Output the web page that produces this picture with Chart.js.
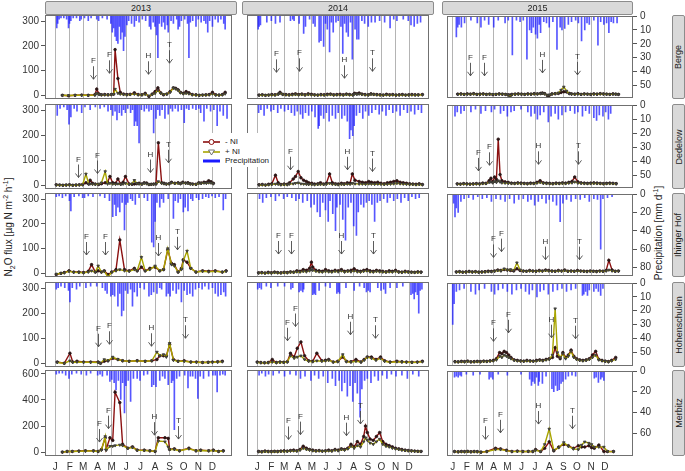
<!DOCTYPE html>
<html>
<head>
<meta charset="utf-8">
<script src="https://cdn.jsdelivr.net/npm/chart.js@4.4.0/dist/chart.umd.min.js"></script>
<style>
body { margin: 0; background: #fff; font-family: "Liberation Sans", Arial, sans-serif; }
#fig { position: relative; width: 685px; height: 471px; overflow: hidden; background: #fff; }
#fig canvas { position: absolute; }
.strip { position: absolute; box-sizing: border-box; background: #d9d9d9; border: 1px solid #8c8c8c; border-radius: 2px;
  font-size: 9px; color: #222; display: flex; align-items: center; justify-content: center; overflow: visible; }
.vt { transform: rotate(-90deg); white-space: nowrap; }
.title { position: absolute; font-size: 10px; color: #222; white-space: nowrap; transform: translate(-50%, -50%) rotate(-90deg); }
.title sub, .title sup { font-size: 7px; }
#legend { position: absolute; left: 199px; top: 133px; width: 72px; height: 34px; background: #fff; z-index: 5; }
#legend span { position: absolute; left: 26px; font-size: 8px; color: #222; white-space: nowrap; }
</style>
</head>
<body>
<div id="fig">
  <div class="title" style="left:9px;top:227px">N<sub>2</sub>O flux [µg N m<sup>-2</sup> h<sup>-1</sup>]</div>
  <div class="title" style="left:658px;top:233px">Precipitation [mm d<sup>-1</sup>]</div>
  <div id="legend">
    <svg width="20" height="34" style="position:absolute;left:4px;top:0">
      <line x1="0" y1="9" x2="17" y2="9" stroke="#8b1010" stroke-width="1.6"/>
      <circle cx="8.5" cy="9" r="2.5" fill="#fff" stroke="#8b1010" stroke-width="1"/>
      <line x1="0" y1="19" x2="17" y2="19" stroke="#a8a400" stroke-width="1.6"/>
      <path d="M5.5 17 L11.5 17 L8.5 22 Z" fill="#fff" stroke="#555" stroke-width="0.8"/>
      <line x1="0" y1="28" x2="17" y2="28" stroke="#1a1aff" stroke-width="3"/>
    </svg>
    <span style="top:4px">- NI</span>
    <span style="top:14px">+ NI</span>
    <span style="top:23px">Precipitation</span>
  </div>
</div>
<script>
// months and labels
var months = [0, 31, 59, 90, 120, 151, 181, 212, 243, 273, 304, 334];
var monthLabels = ['J', 'F', 'M', 'A', 'M', 'J', 'J', 'A', 'S', 'O', 'N', 'D'];
var years = ['2013', '2014', '2015'];
var sites = ['Berge', 'Dedelow', 'Ihinger Hof', 'Hohenschulen', 'Merbitz'];
var fluxTicks = [0, 50, 100, 150, 200, 250, 300];
var fluxTicksMerbitz = [0, 100, 200, 300, 400, 500, 600];
var rainTicks = [[0, 10, 20, 30, 40, 50], [0, 10, 20, 30, 40, 50], [0, 20, 40, 60, 80], [0, 10, 20, 30, 40, 50], [0, 20, 40, 60]];

// ---- Berge ----
var berge13Days = [15,28,42,56,70,84,88,93,98,105,112,119,124,127,133,138,145,152,159,168,176,184,191,199,206,212,218,224,230,237,244,251,256,261,266,272,278,284,291,299,306,313,320,327,334,341,348,355,361];
var berge13Minus = [0,-2,0,1,0,2,25,5,2,3,2,3,5,185,68,12,5,3,4,10,3,2,8,-5,5,15,30,10,2,5,15,30,28,22,12,8,15,10,3,2,0,1,2,3,12,2,1,3,12];
var berge13Plus = [0,-1,0,0,0,1,8,3,2,2,2,3,4,25,8,5,3,2,3,5,2,2,4,-2,3,8,20,8,3,5,12,30,26,20,10,6,8,6,2,1,0,1,1,2,6,1,1,2,6];
var berge13Rain = [[3,9],[5,6],[8,3],[12,2],[18,2],[24,3],[28,9],[30,6],[33,4],[38,2],[45,2],[52,4],[55,3],[62,2],[70,4],[76,2],[88,3],[92,4],[100,2],[110,3],[118,6],[121,12],[124,9],[127,15],[130,18],[133,20],[136,8],[139,17],[142,12],[145,25],[148,15],[152,7],[156,4],[162,6],[168,8],[172,4],[178,5],[185,3],[192,4],[200,8],[203,10],[208,5],[212,8],[215,14],[218,30],[221,6],[226,8],[230,5],[233,10],[238,7],[240,12],[246,4],[251,6],[258,3],[261,10],[264,8],[268,4],[275,3],[281,6],[284,30],[287,5],[292,4],[299,8],[304,3],[310,5],[316,4],[320,6],[324,12],[328,4],[334,8],[340,3],[346,5],[352,3],[358,6],[361,10]];
var berge13Marks = [['F',81,65],['F',114,89],['H',197,85],['T',241,130]];

var berge14Days = [4,11,18,25,32,39,46,50,56,63,70,77,84,91,98,105,112,119,126,133,140,147,154,161,168,175,182,189,196,203,210,214,219,224,230,237,244,250,256,263,270,277,284,291,298,305,312,319,326,333,340,347,354,363];
var berge14Minus = [1,2,0,1,3,2,5,12,4,3,2,4,6,3,5,2,6,4,2,1,3,2,4,5,2,3,4,2,5,3,2,8,6,9,5,3,2,6,4,3,2,1,4,2,3,1,2,3,1,2,3,2,2,3];
var berge14Plus = [0,1,0,1,2,1,4,8,3,2,1,2,3,2,3,1,3,2,1,1,2,1,2,3,1,2,2,1,3,2,1,5,4,5,3,2,1,4,3,2,1,1,2,1,2,1,1,2,1,1,2,1,1,2];
var berge14Rain = [[2,10],[4,8],[7,7],[21,5],[31,4],[40,6],[50,5],[73,4],[78,3],[81,4],[92,6],[102,13],[106,8],[115,3],[123,6],[127,8],[136,19],[140,18],[146,22],[150,6],[154,10],[159,26],[163,5],[167,12],[173,5],[178,4],[184,8],[188,27],[192,6],[196,12],[200,15],[205,5],[209,31],[215,10],[219,17],[223,17],[230,4],[236,6],[244,8],[251,5],[259,5],[269,4],[280,5],[292,9],[300,3],[307,4],[321,3],[332,4],[338,7],[345,8],[352,6],[359,5]];
var berge14Marks = [['F',42,93],['F',92,97],['H',190,69],['T',253,97]];

var berge15Days = [11,18,25,32,39,46,53,60,67,74,81,88,95,102,109,116,122,126,130,137,144,151,158,165,172,179,186,193,197,202,208,212,218,225,232,238,244,250,256,261,268,275,282,289,296,303,310,317,324,331,338,345,352,358,364];
var berge15Minus = [1,2,0,2,1,3,0,1,2,0,1,-1,0,2,1,0,-2,-3,0,1,2,1,0,2,1,3,2,4,6,3,-5,-4,2,3,4,8,11,10,4,2,1,3,0,2,1,0,2,1,3,2,1,0,2,1,0];
var berge15Plus = [0,1,0,1,1,2,0,1,1,0,1,0,0,1,1,0,-2,-11,-1,1,1,1,0,1,1,2,2,3,4,2,-3,-2,1,3,6,18,31,14,3,1,1,2,0,1,1,0,1,1,2,1,1,0,1,1,0];
var berge15Rain = [[8,15],[11,8],[14,6],[19,8],[26,5],[40,3],[54,5],[62,8],[70,3],[79,6],[90,8],[100,3],[115,5],[122,3],[131,28],[140,3],[148,4],[155,3],[163,31],[169,10],[173,12],[177,8],[182,13],[186,16],[190,6],[193,12],[200,4],[206,5],[212,8],[220,4],[229,24],[236,8],[240,10],[246,9],[254,6],[261,4],[270,3],[276,5],[283,18],[290,10],[295,5],[300,6],[310,3],[319,21],[325,4],[332,6],[338,5],[343,12],[348,4],[353,5],[361,5]];
var berge15Marks = [['F',39,77],['F',69,77],['H',197,89],['T',272,81]];

// ---- Dedelow ----
var dede13Days = [2,9,16,23,30,37,44,51,58,65,71,74,79,85,92,98,106,111,116,122,128,133,139,144,149,157,163,168,173,178,184,189,194,199,204,209,214,219,226,231,236,242,247,254,261,266,271,277,282,287,292,299,305,310,316,321,326,331,336];
var dede13Minus = [2,1,0,1,2,0,1,2,3,10,5,20,8,5,3,6,10,12,35,10,8,25,5,12,35,5,4,5,6,8,5,10,9,3,4,5,6,170,10,8,5,6,12,8,10,7,12,9,10,6,5,4,10,9,12,11,18,14,8];
var dede13Plus = [1,1,0,1,1,0,1,1,2,45,5,6,4,3,5,10,55,5,8,5,4,6,3,5,8,3,6,20,8,5,4,8,6,3,3,4,5,15,8,6,5,6,10,7,8,6,10,8,7,5,4,3,8,7,9,8,10,9,6];
var dede13Rain = [[4,8],[10,3],[18,2],[25,4],[29,14],[33,9],[40,3],[46,5],[56,6],[63,2],[74,4],[85,2],[95,3],[104,2],[112,5],[118,4],[122,8],[127,5],[131,11],[136,6],[141,8],[145,4],[149,6],[154,3],[160,6],[164,4],[168,15],[171,12],[174,15],[178,27],[183,4],[189,5],[194,3],[199,5],[204,4],[209,20],[214,10],[218,4],[222,8],[227,4],[233,10],[240,7],[245,3],[249,5],[255,3],[261,5],[268,4],[274,13],[279,3],[284,4],[292,3],[299,4],[305,3],[309,6],[316,12],[322,3],[330,5],[337,4],[344,15],[350,5],[357,8],[365,10]];
var dede13Marks = [['F',48,31],['F',89,47],['H',201,51],['T',239,90]];

var dede14Days = [4,11,18,25,32,40,46,52,59,66,71,79,84,90,96,102,108,113,120,126,133,139,146,152,159,165,172,178,185,191,198,204,209,215,224,231,238,245,251,258,265,272,279,286,293,300,307,314,321,328,335,342,349,356,363];
var dede14Minus = [2,3,1,4,6,40,10,3,5,4,10,25,35,55,30,20,15,10,8,5,6,10,5,8,45,10,6,5,8,6,10,8,45,20,15,12,10,15,12,10,12,8,6,10,12,15,18,12,10,8,6,5,4,6,3];
var dede14Plus = [1,2,1,2,3,5,4,2,3,2,5,6,8,10,6,5,4,3,3,2,3,4,3,4,8,4,3,2,4,3,5,4,8,6,5,5,4,6,5,4,5,4,3,4,5,6,8,6,5,4,3,3,2,3,2];
var dede14Rain = [[3,6],[8,4],[15,8],[22,3],[30,5],[36,4],[45,6],[52,3],[60,5],[68,4],[75,6],[82,8],[88,5],[95,7],[100,10],[106,6],[113,8],[120,5],[127,9],[134,17],[136,15],[140,8],[146,10],[152,6],[158,12],[165,8],[172,10],[178,6],[186,10],[192,8],[198,12],[203,24],[206,18],[210,22],[213,15],[218,8],[225,6],[232,10],[238,5],[245,8],[252,6],[260,4],[268,7],[275,5],[283,8],[290,4],[298,6],[306,5],[314,8],[322,4],[330,6],[338,5],[346,7],[354,4],[361,6]];
var dede14Marks = [['F',73,62],['H',198,62],['T',253,55]];

var dede15Days = [10,17,24,31,38,45,52,59,66,73,80,84,88,92,96,100,104,108,115,122,129,136,143,150,157,164,171,178,185,192,199,206,213,220,227,234,241,248,255,262,268,275,282,289,296,303,310,317,324,331,338,345,352,359];
var dede15Minus = [2,1,3,2,1,2,3,2,5,4,15,25,10,30,20,185,40,15,10,8,5,4,6,5,4,3,5,4,8,15,6,5,4,3,5,4,6,5,8,12,30,10,6,5,4,5,6,5,4,3,4,5,4,3];
var dede15Plus = [1,1,2,1,1,1,2,1,3,3,8,10,6,12,8,15,10,6,5,4,3,3,4,3,3,2,3,3,5,8,4,3,3,2,3,3,4,3,5,6,10,5,4,3,3,3,4,3,3,2,3,3,3,2];
var dede15Rain = [[5,8],[10,5],[18,6],[25,4],[40,5],[50,3],[62,6],[72,4],[85,5],[92,3],[105,6],[112,4],[120,8],[128,5],[135,4],[150,3],[165,5],[172,8],[180,6],[186,10],[192,7],[200,5],[210,12],[216,8],[225,6],[232,10],[240,7],[248,5],[258,4],[268,6],[275,5],[285,8],[292,4],[300,6],[310,9],[316,11],[322,7],[330,8],[336,5],[342,10],[347,6]];
var dede15Marks = [['F',56,55],['F',80,78],['H',188,82],['T',276,82]];

// ---- Ihinger Hof ----
var ihin13Days = [2,12,19,29,39,50,60,70,77,85,91,98,104,112,120,129,137,147,157,168,174,183,191,201,212,222,230,239,247,253,261,268,272,280,288,299,313,326,340,355,363];
var ihin13Minus = [-5,0,3,10,5,5,3,8,35,5,10,5,10,-5,5,15,135,15,10,20,10,25,10,20,25,10,15,95,40,35,5,20,55,45,20,5,10,8,10,5,10];
var ihin13Plus = [-3,0,2,8,4,3,2,5,10,5,30,5,8,-15,5,10,15,10,8,15,10,65,10,15,30,10,15,100,35,30,5,15,50,90,20,5,8,6,8,5,8];
var ihin13Rain = [[2,4],[8,3],[15,5],[22,3],[30,8],[33,19],[40,4],[50,3],[58,5],[62,5],[70,3],[80,4],[95,3],[105,5],[115,8],[122,25],[126,12],[129,24],[133,15],[137,20],[142,10],[147,39],[150,12],[154,10],[160,6],[164,8],[170,12],[178,5],[189,5],[196,8],[205,52],[209,57],[212,30],[216,10],[222,15],[226,6],[230,10],[240,6],[251,27],[255,8],[261,10],[266,6],[272,20],[276,15],[282,19],[288,6],[292,8],[300,5],[305,7],[313,6],[320,4],[326,5],[333,3],[340,5],[348,4],[357,18],[362,6]];
var ihin13Marks = [['F',66,74],['F',106,74],['H',218,70],['T',258,95]];

var ihin14Days = [3,10,17,24,31,38,45,52,59,66,73,80,87,94,101,108,115,119,122,129,136,143,150,157,164,171,178,185,192,199,206,213,220,227,234,241,248,255,262,269,276,283,290,297,304,311,318,325,332,339,346,353,360];
var ihin14Minus = [2,3,1,4,2,5,3,2,4,3,6,5,10,8,15,12,20,45,25,12,10,8,15,10,8,12,10,15,8,10,12,18,10,8,12,15,10,8,12,10,8,6,10,8,12,6,5,8,6,5,4,6,5];
var ihin14Plus = [1,2,1,2,1,3,2,1,3,2,4,3,6,5,8,6,10,15,12,8,6,5,8,6,5,8,6,10,5,8,6,10,6,5,8,10,6,5,8,6,5,4,6,5,8,4,3,5,4,3,3,4,3];
var ihin14Rain = [[5,6],[12,10],[20,5],[30,4],[40,8],[48,3],[58,6],[66,4],[76,5],[85,8],[92,6],[100,10],[110,8],[118,15],[125,12],[132,20],[138,25],[144,10],[150,18],[156,30],[160,8],[166,22],[172,40],[175,15],[182,12],[188,28],[194,50],[200,15],[206,10],[212,35],[218,45],[222,20],[228,12],[234,15],[240,10],[246,8],[252,12],[258,30],[264,10],[270,8],[278,6],[286,10],[292,5],[300,8],[308,6],[316,10],[324,5],[332,8],[340,4],[348,6],[356,5]];
var ihin14Marks = [['F',46,78],['F',75,78],['H',184,78],['T',255,78]];

var ihin15Days = [8,15,22,29,36,43,50,57,64,71,78,85,92,99,106,113,120,127,134,141,148,155,162,169,176,183,190,197,204,211,218,225,232,239,246,253,260,267,274,281,288,295,302,309,316,323,330,337,343,350,357,364];
var ihin15Minus = [2,3,1,2,4,2,3,1,2,3,5,4,6,10,8,12,10,8,6,15,8,6,5,8,6,5,8,6,10,8,6,5,8,6,10,5,6,5,8,6,5,4,6,5,4,6,5,8,50,10,5,6];
var ihin15Plus = [1,2,1,1,3,1,2,1,1,2,3,3,5,8,6,15,10,12,8,40,10,5,4,6,5,4,6,5,8,6,5,4,6,5,8,4,5,4,6,5,4,3,5,4,3,5,4,6,10,6,4,5];
var ihin15Rain = [[2,10],[5,25],[8,15],[12,20],[18,8],[25,5],[35,4],[45,6],[55,3],[65,5],[75,4],[85,8],[95,5],[105,6],[115,8],[125,5],[135,10],[145,6],[155,5],[165,8],[172,6],[180,12],[188,8],[196,5],[205,10],[212,6],[220,8],[228,12],[236,30],[242,10],[250,6],[260,8],[270,5],[280,6],[290,4],[300,8],[310,5],[318,6],[325,60],[330,5],[340,4],[350,3]];
var ihin15Marks = [['F',88,62],['F',105,86],['H',203,53],['T',278,53]];

// ---- Hohenschulen ----
var hohe13Days = [4,19,31,37,46,60,75,91,96,104,112,122,133,143,157,174,191,205,216,222,230,236,243,251,261,274,288,300,313,325,334,345,355];
var hohe13Minus = [5,0,40,5,8,5,5,5,0,8,10,20,15,10,8,10,8,10,15,30,30,30,75,15,8,10,5,5,3,4,5,6,8];
var hohe13Plus = [3,0,10,4,5,4,4,3,0,15,10,25,15,10,8,10,8,10,45,30,35,25,80,12,8,8,5,4,3,3,4,5,6];
var hohe13Rain = [[2,5],[6,4],[12,3],[20,4],[28,6],[31,14],[36,4],[45,5],[52,3],[65,4],[75,3],[88,3],[100,4],[106,6],[110,8],[118,10],[122,9],[126,10],[133,17],[137,8],[141,24],[145,20],[149,6],[154,8],[160,5],[164,17],[168,7],[174,10],[180,4],[189,5],[199,10],[204,9],[209,7],[216,8],[222,4],[226,5],[236,10],[240,8],[244,10],[250,6],[257,8],[262,5],[268,14],[274,6],[280,9],[286,8],[292,10],[298,5],[305,4],[312,5],[318,3],[326,5],[334,4],[340,8],[346,10],[352,9],[358,7],[362,10]];
var hohe13Marks = [['F',91,66],['F',114,76],['H',203,68],['T',276,100]];

var hohe14Days = [0,8,16,24,33,42,50,58,66,73,81,88,96,104,113,122,131,142,150,157,167,177,188,196,206,217,228,235,242,251,261,271,280,292,307,318,328,340,352,363];
var hohe14Minus = [5,3,2,3,15,3,5,4,6,40,25,60,85,30,10,8,40,10,12,15,5,8,25,8,6,15,5,15,25,25,15,25,10,5,8,6,5,4,5,8];
var hohe14Plus = [3,2,2,2,5,2,4,3,5,30,20,25,30,15,8,6,10,8,10,12,5,6,35,6,5,8,5,12,25,20,12,20,8,4,6,5,4,3,4,6];
var hohe14Rain = [[1,5],[5,4],[9,5],[20,3],[30,4],[45,3],[60,3],[74,5],[78,4],[92,7],[96,6],[100,7],[102,5],[122,9],[125,8],[128,9],[136,6],[150,3],[160,4],[175,8],[178,7],[181,8],[195,4],[213,6],[225,3],[235,4],[240,7],[244,6],[248,7],[265,4],[272,6],[278,5],[282,8],[292,4],[307,4],[320,3],[338,9],[342,8],[345,12],[348,7],[352,9],[355,22],[358,6],[362,5]];
var hohe14Marks = [['F',65,90],['F',83,147],['H',204,114],['T',259,100]];

var hohe15Days = [5,12,19,26,33,40,47,54,61,68,75,82,89,96,103,108,113,118,123,128,135,142,149,156,163,170,177,184,191,198,205,212,219,225,230,236,242,248,254,260,266,272,279,286,293,300,307,314,321,328,335,342,349,358];
var hohe15Minus = [3,2,4,3,5,2,3,4,3,5,4,6,8,15,40,35,45,40,30,20,10,8,6,5,8,6,5,8,10,8,12,15,20,60,25,15,40,20,30,50,25,15,10,8,10,15,30,45,12,8,5,3,8,20];
var hohe15Plus = [2,2,3,2,4,2,2,3,2,4,3,5,6,10,25,20,30,25,20,15,8,6,5,4,6,5,4,6,8,6,10,12,30,220,40,20,35,15,25,45,20,12,8,6,8,12,20,30,10,6,4,2,6,12];
var hohe15Rain = [[0,30],[3,15],[8,6],[15,5],[25,4],[40,6],[50,8],[58,5],[70,4],[85,6],[92,8],[100,5],[110,4],[120,6],[130,8],[140,5],[150,4],[160,6],[168,8],[175,5],[185,10],[192,6],[200,5],[210,8],[220,6],[230,5],[240,4],[250,6],[260,5],[270,4],[285,9],[288,8],[292,6],[296,9],[300,5],[310,6],[315,4],[320,6],[325,9],[330,4]];
var hohe15Marks = [['F',88,86],['F',122,121],['H',216,101],['T',268,97]];

// ---- Merbitz ----
var merb13Days = [15,25,36,50,64,81,91,98,106,108,116,122,127,137,143,154,164,174,189,201,212,219,233,240,243,253,264,284,299,309,326,336,347,357];
var merb13Minus = [0,5,5,8,10,10,5,20,110,20,110,90,460,380,60,30,40,15,15,10,5,110,110,105,20,25,10,30,10,15,10,15,5,10];
var merb13Plus = [0,4,5,6,8,8,5,15,120,15,45,45,50,55,50,30,35,15,12,10,5,85,80,40,20,20,10,25,10,12,10,12,5,8];
var merb13Rain = [[2,4],[8,3],[15,3],[22,5],[29,8],[35,4],[45,3],[55,4],[66,5],[75,3],[90,5],[95,4],[100,6],[110,5],[116,11],[120,9],[125,12],[129,19],[134,10],[139,28],[143,12],[147,41],[150,15],[155,10],[160,30],[166,8],[174,8],[180,10],[188,5],[196,4],[205,16],[209,14],[214,16],[222,10],[228,6],[233,8],[240,14],[247,12],[250,10],[253,57],[258,8],[264,6],[275,5],[282,17],[287,6],[292,6],[298,8],[303,27],[308,6],[315,8],[326,6],[335,5],[340,5],[344,21],[350,5],[356,4],[361,5]];
var merb13Marks = [['F',93,77],['F',112,180],['H',209,130],['T',261,100]];

var merb14Days = [3,10,17,24,31,38,45,52,59,66,73,80,87,94,101,108,115,122,129,136,143,150,157,164,171,178,185,192,199,206,213,220,227,234,238,242,248,255,262,269,276,283,290,297,304,311,318,325,332,339,346,353,360];
var merb14Minus = [5,3,8,5,4,6,5,8,10,8,12,15,10,20,45,30,20,15,10,12,8,10,15,10,20,15,25,20,30,60,40,80,60,120,200,150,100,90,120,150,80,60,50,40,30,25,20,15,12,10,8,6,5];
var merb14Plus = [3,2,5,3,3,4,3,5,6,5,8,10,8,15,30,20,15,10,8,10,6,8,10,8,15,10,20,15,25,45,30,50,40,80,110,90,70,60,80,100,60,45,40,30,25,20,15,12,10,8,6,5,4];
var merb14Rain = [[4,5],[10,3],[18,6],[25,4],[35,5],[48,3],[60,6],[72,4],[85,5],[95,8],[105,6],[118,10],[126,5],[135,8],[145,6],[155,12],[165,8],[172,15],[180,10],[186,20],[192,12],[198,25],[204,15],[210,30],[215,12],[220,22],[226,45],[230,18],[236,10],[242,8],[250,12],[258,6],[266,10],[275,5],[285,8],[295,4],[305,6],[318,5],[330,8],[342,4],[355,6]];
var merb14Marks = [['F',67,97],['F',94,134],['H',194,126],['T',225,216]];

var merb15Days = [4,12,19,26,33,40,47,54,62,75,94,105,118,130,142,154,166,176,182,193,202,212,222,233,244,254,265,276,283,290,299,305,311,321,332,340,353];
var merb15Minus = [5,3,5,4,6,3,5,4,0,5,30,25,15,5,8,5,6,5,20,5,30,80,10,40,60,50,30,50,40,40,50,35,30,55,5,5,5];
var merb15Plus = [4,2,4,3,5,2,4,3,0,4,20,20,12,4,6,4,5,4,15,5,60,180,15,35,75,45,25,20,55,80,70,60,40,40,40,5,4];
var merb15Rain = [[4,6],[8,5],[12,6],[16,4],[19,5],[30,3],[45,4],[60,3],[80,8],[84,6],[88,8],[100,3],[120,4],[150,3],[169,8],[173,14],[176,10],[180,12],[184,6],[188,14],[190,10],[197,12],[205,5],[218,17],[222,20],[226,14],[230,19],[234,18],[238,12],[242,10],[248,8],[254,5],[262,4],[270,5],[311,7],[315,6],[320,11],[325,8],[328,6],[332,9]];
var merb15Marks = [['F',71,100],['F',103,150],['H',188,218],['T',263,182]];

var panels = [
  [0, 0, berge13Days, berge13Minus, berge13Plus, berge13Rain, berge13Marks],
  [0, 1, berge14Days, berge14Minus, berge14Plus, berge14Rain, berge14Marks],
  [0, 2, berge15Days, berge15Minus, berge15Plus, berge15Rain, berge15Marks],
  [1, 0, dede13Days, dede13Minus, dede13Plus, dede13Rain, dede13Marks],
  [1, 1, dede14Days, dede14Minus, dede14Plus, dede14Rain, dede14Marks],
  [1, 2, dede15Days, dede15Minus, dede15Plus, dede15Rain, dede15Marks],
  [2, 0, ihin13Days, ihin13Minus, ihin13Plus, ihin13Rain, ihin13Marks],
  [2, 1, ihin14Days, ihin14Minus, ihin14Plus, ihin14Rain, ihin14Marks],
  [2, 2, ihin15Days, ihin15Minus, ihin15Plus, ihin15Rain, ihin15Marks],
  [3, 0, hohe13Days, hohe13Minus, hohe13Plus, hohe13Rain, hohe13Marks],
  [3, 1, hohe14Days, hohe14Minus, hohe14Plus, hohe14Rain, hohe14Marks],
  [3, 2, hohe15Days, hohe15Minus, hohe15Plus, hohe15Rain, hohe15Marks],
  [4, 0, merb13Days, merb13Minus, merb13Plus, merb13Rain, merb13Marks],
  [4, 1, merb14Days, merb14Minus, merb14Plus, merb14Rain, merb14Marks],
  [4, 2, merb15Days, merb15Minus, merb15Plus, merb15Rain, merb15Marks]
];

// layout
var colX = [[45, 237], [242, 434], [442, 633]];
var rowY = [[15, 99], [104, 189], [193, 277], [282, 367], [370, 456]];
var xRange = [[-22, 376], [-23, 378], [-13, 396]];
var fluxRange = [[-15, 325], [-15, 325], [-15, 325], [-15, 325], [-30, 630]];
var rainMax = [59, 59, 89, 60, 82];

Chart.defaults.font.family = '"Liberation Sans", Arial, sans-serif';
Chart.defaults.font.size = 10;
Chart.defaults.color = '#333';

var fig = document.getElementById('fig');

var framePlugin = {
  id: 'frame',
  afterDraw: function(chart) {
    var a = chart.chartArea, ctx = chart.ctx;
    ctx.save();
    ctx.strokeStyle = '#707070';
    ctx.lineWidth = 1;
    ctx.strokeRect(Math.round(a.left) + 0.5, Math.round(a.top) + 0.5, Math.round(a.right - a.left) - 1, Math.round(a.bottom - a.top) - 1);
    ctx.restore();
  }
};

function marksPlugin(marks) {
  return {
    id: 'marks',
    afterDatasetsDraw: function(chart) {
      var ctx = chart.ctx, xs = chart.scales.x, ys = chart.scales.y;
      ctx.save();
      ctx.strokeStyle = '#4a4a4a';
      ctx.fillStyle = '#333';
      ctx.lineWidth = 0.9;
      ctx.font = '8px "Liberation Sans", Arial';
      ctx.textAlign = 'center';
      marks.forEach(function(m) {
        var px = Math.round(xs.getPixelForValue(m[1])) + 0.5;
        var tip = ys.getPixelForValue(m[2]);
        ctx.beginPath();
        ctx.moveTo(px, tip - 13);
        ctx.lineTo(px, tip);
        ctx.moveTo(px - 3, tip - 4);
        ctx.lineTo(px, tip);
        ctx.lineTo(px + 3, tip - 4);
        ctx.stroke();
        ctx.fillText(m[0], px, tip - 16);
      });
      ctx.restore();
    }
  };
}

function makePanel(r, c, days, minus, plus, rain, marks) {
  var pad = 8;
  var leftW = (c == 0 ? 45 : 0);
  var rightW = (c == 2 ? 32 : 0);
  var left = colX[c][0] - leftW;
  var w = colX[c][1] - colX[c][0] + leftW + rightW;
  var top = rowY[r][0] - pad;
  var h = rowY[r][1] - rowY[r][0] + 2 * pad + (r == 4 ? 16 : 0);
  var cv = document.createElement('canvas');
  cv.width = w;
  cv.height = h;
  cv.style.left = left + 'px';
  cv.style.top = top + 'px';
  fig.appendChild(cv);

  new Chart(cv.getContext('2d'), {
    type: 'line',
    data: {
      datasets: [
        {
          type: 'bar', yAxisID: 'yP', order: 3,
          data: rain.map(function(p) { return {x: p[0], y: p[1]}; }),
          backgroundColor: 'rgba(30,30,255,0.75)', borderWidth: 0, barThickness: 1
        },
        {
          type: 'line', yAxisID: 'y', order: 2,
          data: days.map(function(d, i) { return {x: d, y: minus[i]}; }),
          borderColor: '#8b1010', borderWidth: 1.4, tension: 0,
          pointStyle: 'circle', pointRadius: 1.3, pointBorderWidth: 0.8,
          pointBorderColor: '#2a1515', pointBackgroundColor: '#2a1515'
        },
        {
          type: 'line', yAxisID: 'y', order: 1,
          data: days.map(function(d, i) { return {x: d, y: plus[i]}; }),
          borderColor: '#a8a400', borderWidth: 1.4, tension: 0,
          pointStyle: 'triangle', pointRotation: 180, pointRadius: 1.5, pointBorderWidth: 0.8,
          pointBorderColor: '#333', pointBackgroundColor: '#555'
        }
      ]
    },
    options: {
      responsive: false,
      animation: false,
      devicePixelRatio: 1,
      events: [],
      layout: {padding: {top: pad, bottom: pad, left: 0, right: 0}},
      plugins: {legend: {display: false}, tooltip: {enabled: false}},
      scales: {
        x: {
          type: 'linear', min: xRange[c][0], max: xRange[c][1], offset: false,
          afterBuildTicks: function(s) { s.ticks = months.map(function(v) { return {value: v}; }); },
          afterFit: function(s) { s.height = (r == 4 ? 16 : 0); },
          grid: {color: '#b4b4b4', lineWidth: 1, drawTicks: false, offset: false},
          border: {display: false},
          ticks: {
            display: r == 4, autoSkip: false, maxRotation: 0, padding: 5, color: '#333',
            callback: function(v, i) { return monthLabels[i]; }
          }
        },
        y: {
          position: 'left', display: c == 0, min: fluxRange[r][0], max: fluxRange[r][1],
          afterBuildTicks: function(s) { s.ticks = (r == 4 ? fluxTicksMerbitz : fluxTicks).map(function(v) { return {value: v}; }); },
          afterFit: function(s) { s.width = leftW; },
          grid: {drawOnChartArea: false, drawTicks: true, tickLength: 4, color: '#555'},
          border: {display: false},
          ticks: {padding: 2, color: '#333'}
        },
        yP: {
          position: 'right', display: c == 2, reverse: true, min: 0, max: rainMax[r],
          afterBuildTicks: function(s) { s.ticks = rainTicks[r].map(function(v) { return {value: v}; }); },
          afterFit: function(s) { s.width = rightW; },
          grid: {drawOnChartArea: false, drawTicks: true, tickLength: 4, color: '#555'},
          border: {display: false},
          ticks: {padding: 3, color: '#333'}
        }
      }
    },
    plugins: [framePlugin, marksPlugin(marks)]
  });
}

panels.forEach(function(p) { makePanel(p[0], p[1], p[2], p[3], p[4], p[5], p[6]); });

// strips
years.forEach(function(y, c) {
  var d = document.createElement('div');
  d.className = 'strip';
  d.style.left = colX[c][0] + 'px';
  d.style.width = (colX[c][1] - colX[c][0]) + 'px';
  d.style.top = '1px';
  d.style.height = '14px';
  d.textContent = y;
  fig.appendChild(d);
});
sites.forEach(function(s, r) {
  var d = document.createElement('div');
  d.className = 'strip';
  d.style.left = '672px';
  d.style.width = '13px';
  d.style.top = rowY[r][0] + 'px';
  d.style.height = (rowY[r][1] - rowY[r][0]) + 'px';
  var t = document.createElement('span');
  t.className = 'vt';
  t.textContent = s;
  d.appendChild(t);
  fig.appendChild(d);
});
</script>
</body>
</html>
